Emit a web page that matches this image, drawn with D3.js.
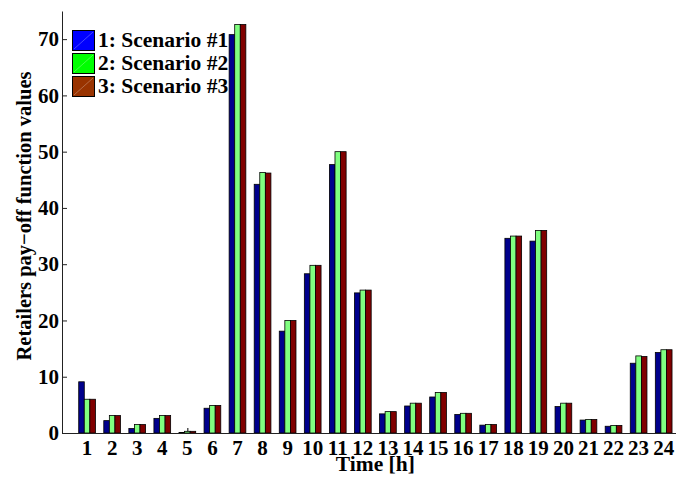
<!DOCTYPE html>
<html><head><meta charset="utf-8">
<script src="https://cdn.jsdelivr.net/npm/d3@7"></script>
<style>html,body{margin:0;padding:0;background:#fff;overflow:hidden} text{font-family:"Liberation Serif",serif;font-weight:bold}</style>
</head><body>
<script>
const hours = d3.range(1, 25);
const scenario1 = [9.1,2.2,0.8,2.6,0.1,4.4,70.8,44.2,18.1,28.3,47.7,24.9,3.4,4.8,6.4,3.3,1.4,34.6,34.1,4.7,2.3,1.2,12.4,14.3];
const scenario2 = [6.0,3.1,1.5,3.1,0.3,4.9,72.6,46.3,20.0,29.8,50.0,25.4,3.8,5.3,7.2,3.5,1.5,35.0,36.0,5.3,2.4,1.35,13.7,14.8];
const scenario3 = [6.0,3.1,1.5,3.1,0.3,4.9,72.6,46.2,20.0,29.8,50.0,25.4,3.8,5.3,7.2,3.5,1.5,35.0,36.0,5.3,2.4,1.35,13.6,14.8];
const seriesNames = ["1: Scenario #1","2: Scenario #2","3: Scenario #3"];
const yTicks = [0,10,20,30,40,50,60,70];

const W = 676, H = 477;
const barColors = ["#00008c","#80ff80","#800000"];
const legendColors = ["#0000ff","#00ff00","#993300"];
const font = "Liberation Serif";
const fsTick = 21, fsLegend = 21.5, fsY = 20.5, fsX = 21.5;

const svg = d3.select("body").append("svg").attr("width", W).attr("height", H);

const x = d3.scaleLinear().domain([0, 25]).range([62, 62 + 25*25.07]);
const y = d3.scaleLinear().domain([0, 75]).range([433, 11]);

const series = [scenario1, scenario2, scenario3];
const gw = 2/3, bw = gw/3;

// x ticks (under bars)
svg.append("g").selectAll("line").data(hours).join("line")
  .attr("x1", d => x(d)+0.5).attr("x2", d => x(d)+0.5)
  .attr("y1", y(0)).attr("y2", y(0)-5)
  .attr("stroke", "#000").attr("stroke-width", 1);

// bars
series.forEach((vals, i) => {
  svg.append("g").selectAll("rect").data(hours).join("rect")
    .attr("x", d => x(d - gw/2 + i*bw))
    .attr("width", x(bw) - x(0))
    .attr("y", (d, j) => y(vals[j]))
    .attr("height", (d, j) => y(0) - y(vals[j]))
    .attr("fill", barColors[i])
    .attr("stroke", "#000").attr("stroke-width", 0.8);
});

// y axis
const yAxis = d3.axisLeft(y).tickValues(yTicks).tickSizeInner(-5).tickSizeOuter(0).tickPadding(3);
const gy = svg.append("g").attr("transform", `translate(${x(0)},0)`).call(yAxis);
gy.attr("font-family", font).attr("font-size", fsTick);
gy.select(".domain").attr("stroke", "#222");
gy.selectAll("line").attr("stroke", "#222");
gy.selectAll("text").attr("font-size", fsTick).attr("font-weight", "bold").attr("font-family", font).attr("fill", "#000");

// x axis line
svg.append("line").attr("x1", x(0)).attr("x2", W).attr("y1", y(0)+0.5).attr("y2", y(0)+0.5)
  .attr("stroke", "#222");

// x tick labels
svg.append("g").selectAll("text").data(hours).join("text")
  .attr("x", d => x(d)).attr("y", 455)
  .attr("text-anchor", "middle").attr("font-size", fsTick).attr("font-weight", "bold").attr("font-family", font)
  .text(d => d);

// axis titles
svg.append("text").attr("x", x(12.5)).attr("y", 471).attr("text-anchor", "middle").attr("font-family", font)
  .attr("font-size", fsX).attr("font-weight", "bold").text("Time [h]");
svg.append("text").attr("transform", "translate(31,216) rotate(-90)").attr("text-anchor", "middle").attr("font-family", font)
  .attr("font-size", fsY).attr("font-weight", "bold").text("Retailers pay\u2212off function values");

// legend
const lg = svg.append("g");
seriesNames.forEach((name, i) => {
  const yy = 30 + i*23;
  lg.append("rect").attr("x", 72.5).attr("y", yy+0.5).attr("width", 22).attr("height", 20)
    .attr("fill", legendColors[i]).attr("stroke", "#000").attr("stroke-width", 1);
  lg.append("line").attr("x1", 74).attr("y1", yy+19).attr("x2", 93).attr("y2", yy+2)
    .attr("stroke", "#fff").attr("stroke-opacity", 0.35).attr("stroke-width", 0.8);
  lg.append("text").attr("x", 98).attr("y", yy+17).attr("font-size", fsLegend).attr("font-weight", "bold").attr("font-family", font)
    .text(name);
});
</script>
</body></html>
